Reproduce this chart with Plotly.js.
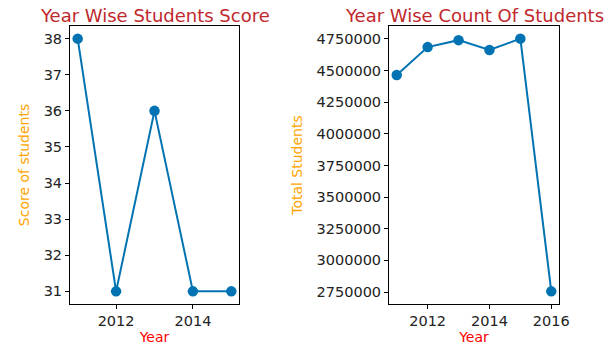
<!DOCTYPE html>
<html>
<head>
<meta charset="utf-8">
<script src="https://cdn.plot.ly/plotly-3.0.1.min.js"></script>
<style>html,body{margin:0;padding:0;background:#fff;}#c{width:610px;height:356px;}</style>
</head>
<body>
<div id="c"></div>
<script>
const scoreYears = [2011, 2012, 2013, 2014, 2015];
const scores = [38, 31, 36, 31, 31];
const countYears = [2011, 2012, 2013, 2014, 2015, 2016];
const counts = [4465000, 4685000, 4740000, 4662000, 4752000, 2755000];
const titles = ["Year Wise Students Score", "Year Wise Count Of Students"];
const xLabel = "Year";
const yLabels = ["Score of students", "Total Students"];

function padRange(arr, f) {
  const lo = Math.min(...arr), hi = Math.max(...arr), p = (hi - lo) * f;
  return [lo - p, hi + p];
}

const lineColor = '#0173b2';
const tickFont = {family: 'DejaVu Sans', size: 14.5, color: '#222'};
const baseAxis = {
  showline: true, mirror: true, linecolor: '#000', linewidth: 1,
  ticks: 'outside', ticklen: 4, tickcolor: '#000', showgrid: false, zeroline: false,
  tickfont: tickFont
};

const traces = [
  {x: scoreYears, y: scores, xaxis: 'x', yaxis: 'y', mode: 'lines+markers',
   line: {color: lineColor, width: 2}, marker: {color: lineColor, size: 10.5}},
  {x: countYears, y: counts, xaxis: 'x2', yaxis: 'y2', mode: 'lines+markers',
   line: {color: lineColor, width: 2}, marker: {color: lineColor, size: 10.5}}
];

const yDom = [52/356, 330/356];
const layout = {
  width: 610, height: 356, showlegend: false,
  margin: {l: 0, r: 0, t: 0, b: 0},
  paper_bgcolor: '#fff', plot_bgcolor: '#fff',
  xaxis: Object.assign({}, baseAxis, {domain: [70/610, 239/610], range: padRange(scoreYears, 0.05),
    tick0: 2012, dtick: 2, anchor: 'y',
    title: {text: xLabel, font: {family: 'DejaVu Sans', size: 14, color: '#ff0000'}, standoff: 3}}),
  yaxis: Object.assign({}, baseAxis, {domain: yDom, range: padRange(scores, 0.05), dtick: 1, anchor: 'x',
    title: {text: yLabels[0], font: {family: 'DejaVu Sans', size: 14, color: '#ffa500'}, standoff: 10}}),
  xaxis2: Object.assign({}, baseAxis, {domain: [389/610, 559/610], range: padRange(countYears, 0.05),
    tick0: 2012, dtick: 2, anchor: 'y2',
    title: {text: xLabel, font: {family: 'DejaVu Sans', size: 14, color: '#ff0000'}, standoff: 3}}),
  yaxis2: Object.assign({}, baseAxis, {domain: yDom, range: padRange(counts, 0.05), dtick: 250000, tick0: 2750000,
    tickformat: 'd', anchor: 'x2',
    title: {text: yLabels[1], font: {family: 'DejaVu Sans', size: 14, color: '#ffa500'}, standoff: 10}}),
  annotations: [
    {text: titles[0], xref: 'paper', yref: 'paper', x: 154.5/610, y: 1 - 3/356, xanchor: 'center', yanchor: 'top',
     showarrow: false, font: {family: 'DejaVu Sans', size: 18, color: '#c0282d'}},
    {text: titles[1], xref: 'paper', yref: 'paper', x: 474/610, y: 1 - 3/356, xanchor: 'center', yanchor: 'top',
     showarrow: false, font: {family: 'DejaVu Sans', size: 18, color: '#c0282d'}}
  ]
};

Plotly.newPlot('c', traces, layout, {displayModeBar: false, staticPlot: true});
</script>
</body>
</html>
